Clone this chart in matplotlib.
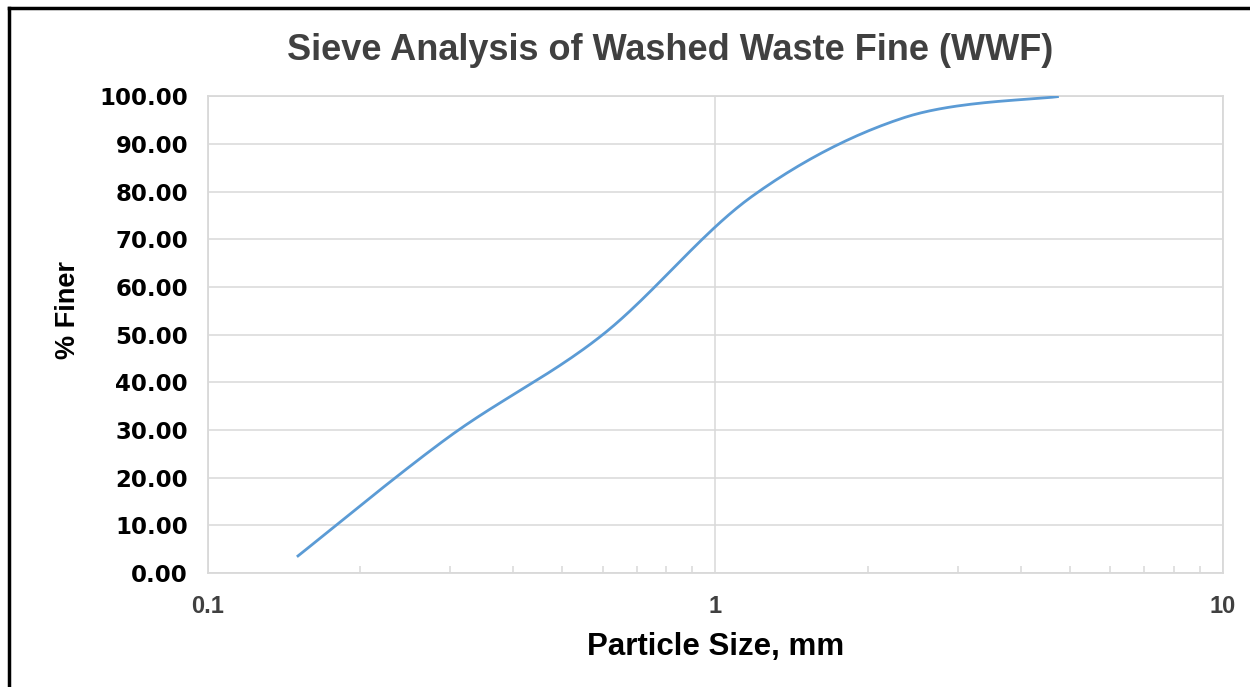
import numpy as np
import matplotlib
matplotlib.use("Agg")
import matplotlib.pyplot as plt
from matplotlib.lines import Line2D
from matplotlib.ticker import FixedLocator, LogLocator, NullFormatter, FixedFormatter

# ---- data ----
sieve_mm = [0.15, 0.3, 0.6, 1.18, 2.36, 4.75]
percent_finer = [3.4, 28.7, 50.0, 79.0, 95.6, 100.0]
y_ticks = [0, 10, 20, 30, 40, 50, 60, 70, 80, 90, 100]
x_ticks = [0.1, 1, 10]
x_tick_labels = ["0.1", "1", "10"]
title = "Sieve Analysis of Washed Waste Fine (WWF)"
x_label = "Particle Size, mm"
y_label = "% Finer"

W, H = 1250, 687
fig = plt.figure(figsize=(W / 100, H / 100), dpi=100)
fig.patch.set_facecolor("white")

L, R, T, B = 207.5, 1223, 96.5, 573
ax = fig.add_axes([L / W, 1 - B / H, (R - L) / W, (B - T) / H])


def excel_smooth(xs, ys, n=40):
    """Excel-style smoothed line (Bezier through points) in log-x space."""
    px = np.log10(np.asarray(xs, float))
    py = np.asarray(ys, float)
    sx = (R - L) / 2.0
    sy = (B - T) / 100.0
    P = np.column_stack([px * sx, py * sy])
    m = len(P)
    out = []
    for i in range(m - 1):
        p0 = P[i - 1] if i > 0 else P[i]
        p1 = P[i]
        p2 = P[i + 1]
        p3 = P[i + 2] if i + 2 < m else P[i + 1]
        c1 = p1 + (p2 - p0) / 6.0
        c2 = p2 - (p3 - p1) / 6.0
        t = np.linspace(0, 1, n)[:, None]
        seg = ((1 - t) ** 3) * p1 + 3 * ((1 - t) ** 2) * t * c1 + 3 * (1 - t) * t ** 2 * c2 + t ** 3 * p2
        out.append(seg if i == 0 else seg[1:])
    S = np.vstack(out)
    return 10 ** (S[:, 0] / sx), S[:, 1] / sy


sx_, sy_ = excel_smooth(sieve_mm, percent_finer)
ax.plot(sx_, sy_, color="#5B9BD5", lw=2.0, solid_capstyle="butt", zorder=3)

ax.set_xscale("log")
ax.set_xlim(0.1, 10)
ax.set_ylim(0, 100)

grid_c = "#D9D9D9"
ax.set_yticks(y_ticks)
ax.set_yticklabels([f"{v:.2f}" for v in y_ticks])
ax.xaxis.set_major_locator(FixedLocator(x_ticks))
ax.xaxis.set_major_formatter(FixedFormatter(x_tick_labels))
ax.xaxis.set_minor_locator(LogLocator(base=10, subs=np.arange(2, 10)))
ax.xaxis.set_minor_formatter(NullFormatter())

ax.grid(True, which="major", color=grid_c, lw=1.1, zorder=0)
ax.set_axisbelow(True)
for s in ax.spines.values():
    s.set_color(grid_c)
    s.set_linewidth(1.3)

ax.tick_params(axis="y", which="both", length=0, pad=14)
ax.tick_params(axis="x", which="major", length=0, pad=16)
ax.tick_params(axis="x", which="minor", length=5, direction="in", color=grid_c, width=1.1)

for lab in ax.get_yticklabels():
    lab.set_fontfamily("DejaVu Sans")
    lab.set_fontweight("bold")
    lab.set_fontsize(16.5)
    lab.set_color("black")
for lab in ax.get_xticklabels():
    lab.set_fontfamily("Liberation Sans")
    lab.set_fontweight("bold")
    lab.set_fontsize(17)
    lab.set_color("#404040")

fig.text(670 / W, 1 - 50 / H, title, ha="center", va="center",
         fontsize=26, fontweight="bold", color="#404040", family="Liberation Sans")
fig.text(716 / W, 1 - 647 / H, x_label, ha="center", va="center",
         fontsize=22.5, fontweight="bold", color="black", family="Liberation Sans")
fig.text(68 / W, 1 - 310 / H, y_label, ha="center", va="center", rotation=90,
         fontsize=19.5, fontweight="bold", color="black", family="Liberation Sans")

# outer frame (top and left black border)
fig.add_artist(Line2D([9 / W, 9 / W], [0, 1 - 8 / H], color="black", lw=2.5,
                      transform=fig.transFigure, solid_capstyle="projecting"))
fig.add_artist(Line2D([9 / W, 1], [1 - 8 / H, 1 - 8 / H], color="black", lw=2.5,
                      transform=fig.transFigure, solid_capstyle="projecting"))

fig.savefig("out.png", dpi=100, facecolor="white")
